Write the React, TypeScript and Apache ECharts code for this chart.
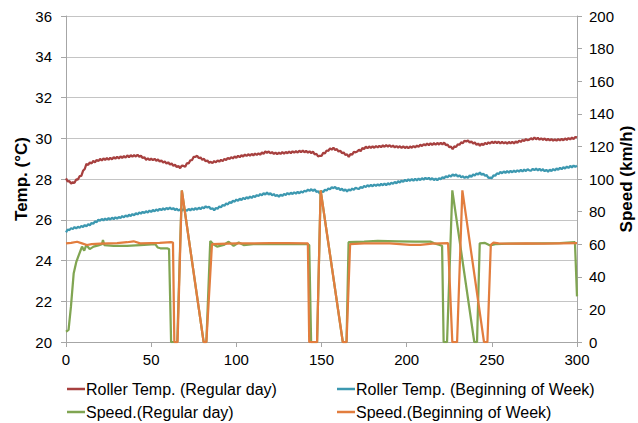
import React, { useEffect, useRef } from "react";
import * as echarts from "echarts";

const FONT = "'Liberation Sans', Arial, Helvetica, sans-serif";

const seriesNames = [
  "Roller Temp. (Regular day)",
  "Roller Temp. (Beginning of Week)",
  "Speed.(Regular day)",
  "Speed.(Beginning of Week)",
];

const seriesColors = ["#A7403F", "#3C98B0", "#80A552", "#E27D3E"];

// Roller temperature (°C), one reading per time step 0..300
const tempRegular = [
  28.03, 27.88, 27.89, 27.78, 27.84, 27.81, 27.98, 27.97, 28.14, 28.15,
  28.4, 28.49, 28.74, 28.69, 28.82, 28.76, 28.89, 28.82, 28.94, 28.88,
  28.99, 28.91, 29.01, 28.93, 29.03, 28.94, 29.04, 28.96, 29.07, 29.0,
  29.09, 29.01, 29.11, 29.03, 29.13, 29.05, 29.16, 29.07, 29.17, 29.09,
  29.18, 29.1, 29.19, 29.09, 29.14, 29.03, 29.07, 28.94, 29.02, 28.93,
  29.0, 28.92, 28.99, 28.89, 28.96, 28.86, 28.91, 28.81, 28.86, 28.76,
  28.82, 28.71, 28.76, 28.65, 28.7, 28.59, 28.64, 28.53, 28.66, 28.64,
  28.6,
  28.78, 28.76, 28.92, 28.93, 29.09, 29.09, 29.14, 29.02, 29.06, 28.94,
  28.99, 28.87, 28.91, 28.8, 28.84, 28.78, 28.88, 28.82, 28.91, 28.85,
  28.94, 28.88, 28.99, 28.93, 29.04, 28.98, 29.07, 29.01, 29.11, 29.04,
  29.14, 29.07, 29.17, 29.1, 29.2, 29.13, 29.22, 29.14, 29.23, 29.16,
  29.25, 29.18, 29.26, 29.19, 29.3, 29.24, 29.35, 29.29, 29.35, 29.26,
  29.32, 29.23, 29.3, 29.21, 29.3, 29.23, 29.32, 29.24, 29.33, 29.26,
  29.35, 29.27, 29.36, 29.29, 29.37, 29.3, 29.39, 29.31, 29.4, 29.31,
  29.38, 29.29, 29.36, 29.27, 29.34, 29.21, 29.24, 29.11, 29.14, 29.13,
  29.28, 29.26, 29.4, 29.38, 29.5, 29.44, 29.54, 29.42, 29.47, 29.35,
  29.39, 29.27, 29.3, 29.18, 29.21, 29.09, 29.22, 29.2, 29.33, 29.31,
  29.35,
  29.44, 29.36, 29.52, 29.47, 29.59, 29.51, 29.6, 29.52, 29.61, 29.53,
  29.62, 29.55, 29.63, 29.56, 29.65, 29.58, 29.66, 29.59, 29.66, 29.57,
  29.64, 29.55, 29.62, 29.54, 29.61, 29.53, 29.6, 29.52, 29.59, 29.51,
  29.6, 29.53, 29.62, 29.55, 29.64, 29.58, 29.68, 29.62, 29.71, 29.65,
  29.74, 29.66, 29.75, 29.67, 29.76, 29.68, 29.77, 29.69, 29.78, 29.7,
  29.79, 29.66, 29.69, 29.56, 29.59, 29.46, 29.6, 29.57, 29.7, 29.68,
  29.8, 29.76, 29.88, 29.84, 29.89, 29.79, 29.84, 29.74, 29.79, 29.68,
  29.74, 29.63, 29.73, 29.67, 29.77, 29.71, 29.8, 29.74, 29.83, 29.76,
  29.84, 29.76, 29.83, 29.74, 29.82, 29.75, 29.81, 29.73, 29.82, 29.75,
  29.82, 29.74, 29.84, 29.78, 29.88, 29.82, 29.92, 29.86, 29.96, 29.9,
  29.93,
  30.0, 29.94, 30.04, 29.95, 30.02, 29.93, 30.0, 29.92, 29.99, 29.9,
  29.97, 29.89, 29.96, 29.88, 29.95, 29.88, 29.96, 29.89, 29.97, 29.9,
  29.99, 29.92, 30.01, 29.94, 30.03, 29.96, 30.06, 30.04,
];

const tempWeekStart = [
  25.38, 25.52, 25.49, 25.59, 25.54, 25.64, 25.57, 25.66, 25.6, 25.7,
  25.64, 25.74, 25.68, 25.78, 25.73, 25.84, 25.8, 25.92, 25.88, 26.0,
  25.95, 26.04, 25.97, 26.06, 25.99, 26.08, 26.01, 26.1, 26.03, 26.12,
  26.05, 26.14, 26.08, 26.18, 26.12, 26.21, 26.15, 26.25, 26.18, 26.28,
  26.22, 26.32, 26.26, 26.36, 26.3, 26.39, 26.33, 26.42, 26.35, 26.45,
  26.38, 26.48, 26.41, 26.51, 26.44, 26.54, 26.47, 26.56, 26.49, 26.58,
  26.51, 26.6, 26.51, 26.57, 26.48, 26.54, 26.45, 26.51, 26.44, 26.52,
  26.47,
  26.45, 26.53, 26.46, 26.55, 26.48, 26.57, 26.5, 26.59, 26.52, 26.62,
  26.56, 26.66, 26.6, 26.64, 26.52, 26.57, 26.46, 26.58, 26.54, 26.65,
  26.61, 26.73, 26.68, 26.8, 26.75, 26.87, 26.82, 26.93, 26.89, 26.99,
  26.93, 27.03, 26.97, 27.07, 27.01, 27.11, 27.04, 27.14, 27.07, 27.17,
  27.11, 27.21, 27.16, 27.26, 27.2, 27.3, 27.24, 27.34, 27.24, 27.3,
  27.2, 27.26, 27.16, 27.22, 27.13, 27.23, 27.17, 27.27, 27.21, 27.31,
  27.24, 27.33, 27.26, 27.35, 27.28, 27.37, 27.3, 27.39, 27.33, 27.43,
  27.38, 27.48, 27.42, 27.5, 27.41, 27.49, 27.37, 27.4, 27.28, 27.4,
  27.36, 27.48, 27.43, 27.54, 27.49, 27.6, 27.55, 27.61, 27.51, 27.56,
  27.46, 27.52, 27.42, 27.49, 27.39, 27.49, 27.43, 27.53, 27.47, 27.57,
  27.53,
  27.51, 27.61, 27.55, 27.66, 27.6, 27.7, 27.63, 27.71, 27.64, 27.73,
  27.66, 27.74, 27.67, 27.76, 27.69, 27.78, 27.7, 27.79, 27.73, 27.82,
  27.76, 27.86, 27.79, 27.89, 27.83, 27.92, 27.86, 27.96, 27.89, 27.99,
  27.91, 28.0, 27.92, 28.01, 27.93, 28.02, 27.95, 28.04, 27.97, 28.06,
  27.99, 28.06, 27.97, 28.04, 27.95, 28.02, 27.94, 28.04, 27.99, 28.09,
  28.04, 28.14, 28.08, 28.18, 28.12, 28.22, 28.16, 28.22, 28.12, 28.18,
  28.08, 28.14, 28.05, 28.12, 28.06, 28.17, 28.11, 28.22, 28.17, 28.27,
  28.22, 28.32, 28.21, 28.26, 28.16, 28.19, 28.05, 28.07, 28.04, 28.18,
  28.16, 28.28, 28.24, 28.35, 28.28, 28.37, 28.3, 28.39, 28.31, 28.4,
  28.33, 28.41, 28.34, 28.43, 28.36, 28.45, 28.37, 28.46, 28.39, 28.48,
  28.42,
  28.41, 28.5, 28.43, 28.51, 28.42, 28.5, 28.41, 28.48, 28.38, 28.45,
  28.36, 28.46, 28.39, 28.49, 28.42, 28.52, 28.45, 28.55, 28.48, 28.58,
  28.51, 28.61, 28.54, 28.64, 28.57, 28.66, 28.6, 28.65,
];

// Speed (km/h) as [time, value] breakpoints
const speedRegular = [
  [0, 6.3], [1.5, 7.4], [2.9, 21.7], [4.5, 42], [6, 49], [7.4, 53], [9.4, 58.5],
  [10.7, 56], [11.9, 59.5], [13.9, 57], [16.2, 58.5], [19, 59.3], [21.1, 60],
  [21.7, 62.6], [22.5, 59.5], [28, 58.9], [35.8, 58.9], [43.6, 59.5], [52.4, 60],
  [53.8, 58], [55.4, 57.5], [59.3, 57.5], [60.5, 57], [61.7, 0], [65.3, 0],
  [68, 93], [80.8, 0], [82.4, 0], [84.7, 62], [86.5, 60], [88.7, 58.5],
  [92.6, 59.5], [95.5, 61.5], [98.4, 59], [101.4, 61], [104.3, 59.5], [110, 60],
  [120, 60.2], [130, 60], [141.5, 60], [142.8, 59.5], [143.9, 0], [147.4, 0],
  [149.5, 93], [162.5, 0], [164.7, 0], [165.9, 61.2], [175, 61.6], [183, 62],
  [195, 61.8], [205, 61.6], [213.9, 61.6], [215.9, 60.7], [219.4, 59.5],
  [220.8, 59], [221.7, 0], [223.7, 0], [226.8, 93], [239.7, 0], [241.3, 0],
  [242.9, 60.5], [246, 60.8], [249, 59.2], [252, 60], [260, 60.3], [270, 60.3],
  [280, 60.5], [290, 60.7], [298.8, 61.2], [300, 28],
];

const speedWeekStart = [
  [0, 60.5], [3, 60.8], [6.5, 61.5], [9.4, 60.5], [12.3, 59.5], [15, 60],
  [20, 60.3], [25, 60.5], [30, 60.7], [35.8, 61.2], [39.7, 61.8], [43.6, 60.5],
  [50, 60.7], [55, 60.8], [61.7, 61.3], [62.8, 61], [63.6, 0], [65.5, 0],
  [68, 93], [80.8, 0], [82.4, 0], [85.7, 60], [90, 60.2], [100, 60.5],
  [110, 60.5], [120, 60.7], [130, 60.6], [142, 60.5], [142.8, 0], [147.4, 0],
  [149.5, 93], [162.5, 0], [164.7, 0], [166.8, 60], [175, 60.5], [190, 60.5],
  [202, 59.6], [208, 59.6], [215, 60.3], [224.3, 60.7], [226.8, 0], [229.6, 0],
  [232.7, 93], [245.4, 0], [247.4, 0], [249.4, 59.6], [251, 61], [254, 60.5],
  [260, 60.3], [270, 60.5], [280, 60.3], [290, 60.5], [300, 60.7],
];

const timeRange = { min: 0, max: 300, interval: 50 };
const tempRange = { min: 20, max: 36, interval: 2 };
const speedRange = { min: 0, max: 200, interval: 20 };

const AXIS_GREY = "#A6A6A6";
const GRID_GREY = "#C4C4C4";

function buildOption() {
  const tickLabel = { color: "#000", fontSize: 15, fontFamily: FONT };
  const axisName = { color: "#000", fontSize: 17, fontWeight: "bold" as const, fontFamily: FONT };

  const legendBase = {
    orient: "horizontal" as const,
    padding: 0,
    itemWidth: 18,
    itemHeight: 2.5,
    icon: "rect",
    selectedMode: false,
    textStyle: { color: "#000", fontSize: 16, fontFamily: FONT, padding: [0, 0, 0, -4] },
  };

  const lineSeries = (idx: number, data: number[][], yAxisIndex: number, width: number) => ({
    name: seriesNames[idx],
    type: "line" as const,
    yAxisIndex,
    data,
    showSymbol: false,
    symbol: "none",
    smooth: false,
    lineStyle: { color: seriesColors[idx], width },
    itemStyle: { color: seriesColors[idx] },
  });

  return {
    animation: false,
    backgroundColor: "#fff",
    color: seriesColors,
    grid: { left: 66, right: 61, top: 16, bottom: 81, containLabel: false, outerBoundsMode: "none" },
    legend: [
      { ...legendBase, data: [seriesNames[0]], left: 67, top: 381 },
      { ...legendBase, data: [seriesNames[1]], left: 337, top: 381 },
      { ...legendBase, data: [seriesNames[2]], left: 67, top: 404 },
      { ...legendBase, data: [seriesNames[3]], left: 337, top: 404 },
    ],
    xAxis: {
      type: "value",
      ...timeRange,
      axisLine: { show: true, lineStyle: { color: AXIS_GREY, width: 1 } },
      axisTick: { show: true, length: 5, inside: false, lineStyle: { color: AXIS_GREY } },
      axisLabel: { ...tickLabel, margin: 10 },
      splitLine: { show: false },
    },
    yAxis: [
      {
        type: "value",
        position: "left",
        ...tempRange,
        name: "Temp. (°C)",
        nameLocation: "middle",
        nameGap: 36,
        nameRotate: 90,
        nameMoveOverlap: false,
        nameTextStyle: axisName,
        axisLine: { show: true, lineStyle: { color: AXIS_GREY, width: 1 } },
        axisTick: { show: true, length: 5, inside: false, lineStyle: { color: AXIS_GREY } },
        axisLabel: { ...tickLabel, margin: 14 },
        splitLine: { show: true, lineStyle: { color: GRID_GREY, width: 1 } },
      },
      {
        type: "value",
        position: "right",
        ...speedRange,
        name: "Speed (km/h)",
        nameLocation: "middle",
        nameGap: 41,
        nameRotate: 90,
        nameMoveOverlap: false,
        nameTextStyle: axisName,
        axisLine: { show: true, lineStyle: { color: AXIS_GREY, width: 1 } },
        axisTick: { show: true, length: 5, inside: false, lineStyle: { color: AXIS_GREY } },
        axisLabel: { ...tickLabel, margin: 12 },
        splitLine: { show: false },
      },
    ],
    series: [
      lineSeries(0, tempRegular.map((v, i) => [i, v]), 0, 2.25),
      lineSeries(1, tempWeekStart.map((v, i) => [i, v]), 0, 2.25),
      lineSeries(2, speedRegular, 1, 2.25),
      lineSeries(3, speedWeekStart, 1, 2.25),
    ],
  };
}

export default function App() {
  const ref = useRef<HTMLDivElement>(null);

  useEffect(() => {
    if (!ref.current) return;
    const chart = echarts.init(ref.current, null, { renderer: "svg" });
    chart.setOption(buildOption() as any);
    return () => chart.dispose();
  }, []);

  return (
    <div
      ref={ref}
      style={{ position: "fixed", left: 0, top: 0, width: 638, height: 423, background: "#fff" }}
    />
  );
}
